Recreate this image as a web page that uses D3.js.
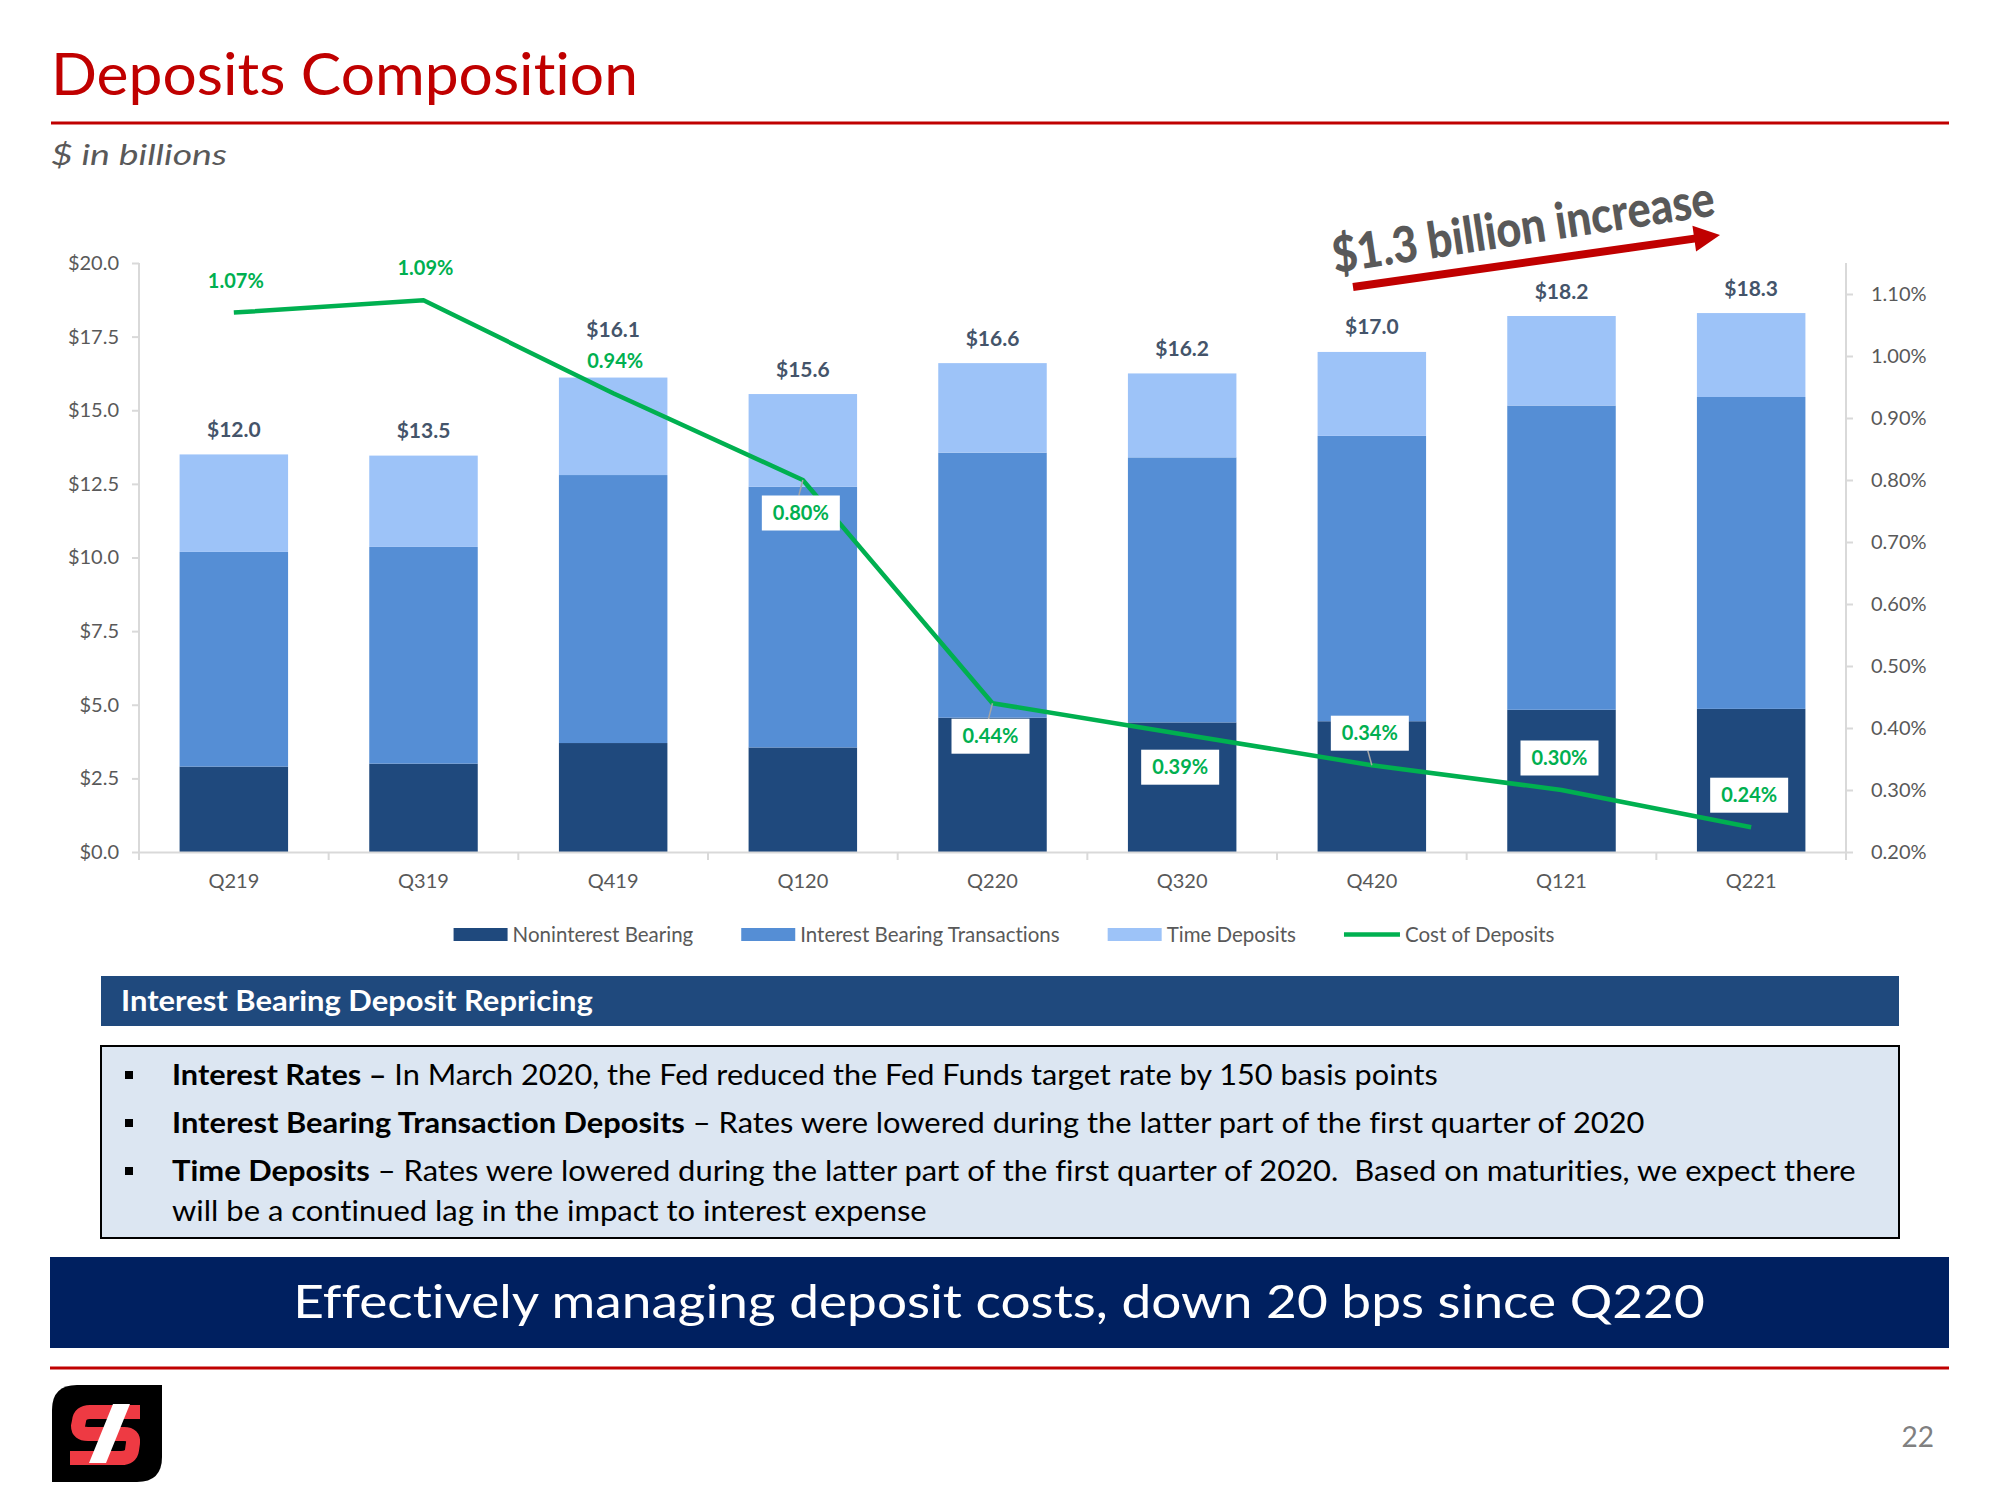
<!DOCTYPE html>
<html><head><meta charset="utf-8">
<script src="https://cdn.jsdelivr.net/npm/d3@7"></script>
<style>
html,body{margin:0;padding:0;background:#fff;}
svg{display:block;font-family:Lato,"Open Sans",sans-serif;font-variant-ligatures:none;font-feature-settings:"liga" 0,"clig" 0,"dlig" 0;}
.pre{white-space:pre;}
</style></head><body>
<svg id="c" width="2000" height="1500"></svg>
<script>
// ---------- data ----------
const categories = ["Q219","Q319","Q419","Q120","Q220","Q320","Q420","Q121","Q221"];
const nonInterestBearing = [2.90,3.00,3.70,3.55,4.56,4.40,4.44,4.83,4.86];
const interestBearingTransactions = [7.29,7.36,9.10,8.85,9.00,9.00,9.69,10.33,10.59];
const timeDeposits = [3.31,3.10,3.31,3.15,3.04,2.85,2.85,3.04,2.85];
const totalLabels = ["$12.0","$13.5","$16.1","$15.6","$16.6","$16.2","$17.0","$18.2","$18.3"];
const costOfDeposits = [1.07,1.09,0.94,0.80,0.44,0.39,0.34,0.30,0.24];
const leftTicks = [0,2.5,5,7.5,10,12.5,15,17.5,20];
const rightTicks = [0.2,0.3,0.4,0.5,0.6,0.7,0.8,0.9,1.0,1.1];
const seriesNames = ["Noninterest Bearing","Interest Bearing Transactions","Time Deposits","Cost of Deposits"];
const costLabelPlacement = ["above","above","above","below","below","below","above","above","above"];
const costLabelBoxed = [false,false,false,true,true,true,true,true,true];
const costLabelLeader = [false,false,false,true,true,false,true,false,false];
const titleText = "Deposits Composition";
const subtitleText = "$ in billions";
const calloutText = "$1.3 billion increase";
const panelHeader = "Interest Bearing Deposit Repricing";
const bulletLines = [
  {bold:"Interest Rates \u2013", rest:" In March 2020, the Fed reduced the Fed Funds target rate by 150 basis points", bullet:true},
  {bold:"Interest Bearing Transaction Deposits", rest:" \u2013 Rates were lowered during the latter part of the first quarter of 2020", bullet:true},
  {bold:"Time Deposits", rest:" \u2013 Rates were lowered during the latter part of the first quarter of 2020.  Based on maturities, we expect there", bullet:true},
  {bold:"", rest:"will be a continued lag in the impact to interest expense", bullet:false}
];
const bannerText = "Effectively managing deposit costs, down 20 bps since Q220";
const pageNumber = "22";

// ---------- styles ----------
const colors = {nib:"#1F497D", ibt:"#558ED5", td:"#9DC3F8", line:"#00B050", axis:"#D9D9D9",
  axisText:"#595959", total:"#44546A", red:"#C00000", header:"#1F497D", banner:"#002060"};

const svg = d3.select("#c");

function fit(sel, target){
  sel.each(function(){
    const w = this.getComputedTextLength();
    if(!w) return;
    const s = target / w;
    const x = +this.getAttribute("x") || 0;
    this.setAttribute("transform", `translate(${x},0) scale(${s},1) translate(${-x},0)`);
  });
}

// ---------- header ----------
svg.append("text").attr("x",51).attr("y",95).attr("fill",colors.red)
  .attr("font-size",59).text(titleText).call(fit,587);
svg.append("line").attr("x1",51).attr("x2",1949).attr("y1",123).attr("y2",123)
  .attr("stroke",colors.red).attr("stroke-width",3);
svg.append("text").attr("x",51).attr("y",165).attr("fill","#595959").attr("font-style","italic")
  .attr("font-size",29).text(subtitleText).call(fit,176);

// ---------- chart ----------
const plot = {left:139, right:1846, top:263, bottom:852};
const x = d3.scaleBand().domain(categories).range([plot.left, plot.right]).paddingInner(0.428).paddingOuter(0.214);
const y = d3.scaleLinear().domain([0,20]).range([plot.bottom, plot.top]);
const y2 = d3.scaleLinear().domain([0.2,1.15]).range([plot.bottom, plot.top]);

const rows = categories.map((c,i)=>({cat:c, nib:nonInterestBearing[i], ibt:interestBearingTransactions[i], td:timeDeposits[i]}));
const keys = ["nib","ibt","td"];
const stack = d3.stack().keys(keys)(rows);

const g = svg.append("g");
g.selectAll("g.series").data(stack).join("g").attr("fill", d=>colors[d.key])
  .selectAll("rect").data(d=>d).join("rect")
  .attr("x", d=>x(d.data.cat)).attr("width", x.bandwidth())
  .attr("y", d=>y(d[1])).attr("height", d=>y(d[0])-y(d[1]));

// axes
const yAxis = d3.axisLeft(y).tickValues(leftTicks).tickFormat(d=>"$"+d3.format(".1f")(d)).tickSize(7).tickPadding(13);
const yAx = svg.append("g").attr("transform",`translate(${plot.left},0)`).call(yAxis);
const y2Axis = d3.axisRight(y2).tickValues(rightTicks).tickFormat(d=>d3.format(".2f")(d)+"%").tickSize(7).tickPadding(18);
const y2Ax = svg.append("g").attr("transform",`translate(${plot.right},0)`).call(y2Axis);
const xAxis = d3.axisBottom(x).tickSize(0).tickPadding(22);
const xAx = svg.append("g").attr("transform",`translate(0,${plot.bottom})`).call(xAxis);
[yAx,y2Ax,xAx].forEach(a=>{
  a.select(".domain").attr("stroke",colors.axis).attr("stroke-width",2);
  a.selectAll(".tick line").attr("stroke",colors.axis).attr("stroke-width",2);
  a.selectAll("text").attr("fill",colors.axisText).attr("font-size",20).attr("font-family","Lato");
});
yAx.select(".domain").attr("d",`M0,${plot.top}V${plot.bottom}`);
y2Ax.select(".domain").attr("d",`M0,${plot.top}V${plot.bottom}`);
// category separators
const step = x.step();
xAx.selectAll("line.sep").data(d3.range(categories.length+1)).join("line").attr("class","sep")
  .attr("x1", i=>plot.left+i*step).attr("x2", i=>plot.left+i*step).attr("y1",0).attr("y2",8)
  .attr("stroke",colors.axis).attr("stroke-width",2);

// cost line
const cx = c => x(c) + x.bandwidth()/2;
svg.append("path").datum(costOfDeposits)
  .attr("d", d3.line().x((d,i)=>cx(categories[i])).y(d=>y2(d)))
  .attr("fill","none").attr("stroke",colors.line).attr("stroke-width",4.5).attr("stroke-linejoin","round");

// cost labels
const costLabelY = costOfDeposits.map((v,i)=> y2(v) + (costLabelPlacement[i]==="above" ? -32 : 33));
const lbl = svg.append("g");
costOfDeposits.forEach((v,i)=>{
  const px = cx(categories[i]), py = y2(v), ly = costLabelY[i];
  if(costLabelLeader[i]){
    const edge = costLabelPlacement[i]==="above" ? ly+17.5 : ly-17.5;
    lbl.append("line").attr("x1",px).attr("y1",py).attr("x2",px-4).attr("y2",edge)
      .attr("stroke","#A6A6A6").attr("stroke-width",1.5);
  }
  if(costLabelBoxed[i]){
    lbl.append("rect").attr("x",px-41).attr("y",ly-17.5).attr("width",78).attr("height",35).attr("fill","#fff");
  }
  lbl.append("text").attr("x", costLabelBoxed[i]? px-2 : px+2).attr("y",ly).attr("dy","0.36em")
    .attr("text-anchor","middle").attr("font-weight","bold").attr("font-size",20)
    .attr("fill",colors.line).text(d3.format(".2f")(v)+"%");
});

// total labels
categories.forEach((c,i)=>{
  const top = y(nonInterestBearing[i]+interestBearingTransactions[i]+timeDeposits[i]);
  let ly = top - 25;
  if(costLabelPlacement[i]==="above" && Math.abs(costLabelY[i]-ly) < 28) ly = costLabelY[i] - 32;
  svg.append("text").attr("x",cx(c)).attr("y",ly).attr("dy","0.36em").attr("text-anchor","middle")
    .attr("font-weight","bold").attr("font-size",21).attr("fill",colors.total).text(totalLabels[i]);
});

// legend
const leg = svg.append("g").attr("font-size",20.5).attr("fill",colors.axisText);
let lx = 0;
seriesNames.forEach((name,i)=>{
  const it = leg.append("g").attr("transform",`translate(${lx},0)`);
  if(i<3) it.append("rect").attr("x",0).attr("y",928).attr("width",54).attr("height",13).attr("fill",colors[keys[i]]);
  else it.append("line").attr("x1",0).attr("x2",56).attr("y1",934.5).attr("y2",934.5).attr("stroke",colors.line).attr("stroke-width",4.5);
  const t = it.append("text").attr("x",i<3?59:61).attr("y",934.5).attr("dy","0.36em").text(name);
  const w = t.node().getComputedTextLength();
  lx += (i<3?59:61) + w + 48;
});
const legW = lx - 48;
leg.attr("transform",`translate(${1004 - legW/2},0)`);

// callout arrow + text
const a0 = [1353,287], a1 = [1720,235];
const ang = Math.atan2(a1[1]-a0[1], a1[0]-a0[0]);
const len = Math.hypot(a1[0]-a0[0], a1[1]-a0[1]);
const arr = svg.append("g").attr("transform",`translate(${a0[0]},${a0[1]}) rotate(${ang*180/Math.PI})`);
arr.append("path").attr("fill",colors.red)
  .attr("d",`M0,-4 L${len-26},-4 L${len-26},-13 L${len},0 L${len-26},13 L${len-26},4 L0,4 Z`);
const cg = svg.append("g").attr("transform",`translate(1335,273) rotate(-8.6)`);
cg.append("text").attr("x",0).attr("y",0).attr("font-weight","900").attr("font-size",50)
  .attr("fill","#595959").text(calloutText).call(fit,386);

// ---------- panel ----------
svg.append("rect").attr("x",101).attr("y",976).attr("width",1798).attr("height",50).attr("fill",colors.header);
svg.append("text").attr("x",121).attr("y",1011).attr("fill","#fff").attr("font-weight","bold")
  .attr("font-size",28).text(panelHeader).call(fit,472);
svg.append("rect").attr("x",101).attr("y",1046).attr("width",1798).attr("height",192)
  .attr("fill","#DCE6F2").attr("stroke","#000").attr("stroke-width",2);
const lineBase = [1085,1133,1181,1221];
const lineWidths = [1266,1473,1684,755];
bulletLines.forEach((ln,i)=>{
  if(ln.bullet) svg.append("rect").attr("x",125).attr("y",lineBase[i]-14).attr("width",8).attr("height",8).attr("fill","#000");
  const t = svg.append("text").attr("class","pre").attr("x",172).attr("y",lineBase[i]).attr("font-size",28).attr("fill","#000");
  if(ln.bold) t.append("tspan").attr("font-weight","bold").text(ln.bold);
  t.append("tspan").text(ln.rest);
  t.call(fit,lineWidths[i]);
});

// banner
svg.append("rect").attr("x",50).attr("y",1257).attr("width",1899).attr("height",91).attr("fill",colors.banner);
svg.append("text").attr("x",999).attr("y",1318).attr("text-anchor","middle").attr("fill","#fff")
  .attr("font-size",46).text(bannerText).call(fit,1412);
svg.append("line").attr("x1",50).attr("x2",1949).attr("y1",1368).attr("y2",1368)
  .attr("stroke",colors.red).attr("stroke-width",3);

// logo
const logo = svg.append("g");
logo.append("path").attr("fill","#000")
  .attr("d","M77,1385 L162,1385 L162,1457 Q162,1482 137,1482 L52,1482 L52,1410 Q52,1385 77,1385 Z");
logo.append("path").attr("fill","none").attr("stroke","#EE3A43").attr("stroke-width",14)
  .attr("d","M140,1412 L90,1412 Q80,1412 79,1421 L78,1426 Q78,1434 88,1434 L124,1434 Q134,1434 133,1443 L132,1450 Q131,1458 121,1458 L70,1458");
logo.append("path").attr("fill","#fff").attr("d","M113,1404 L130,1404 L106,1463 L89,1463 Z");

svg.append("text").attr("x",1934).attr("y",1447).attr("text-anchor","end").attr("fill","#808080")
  .attr("font-size",28).text(pageNumber);
</script>
</body></html>
